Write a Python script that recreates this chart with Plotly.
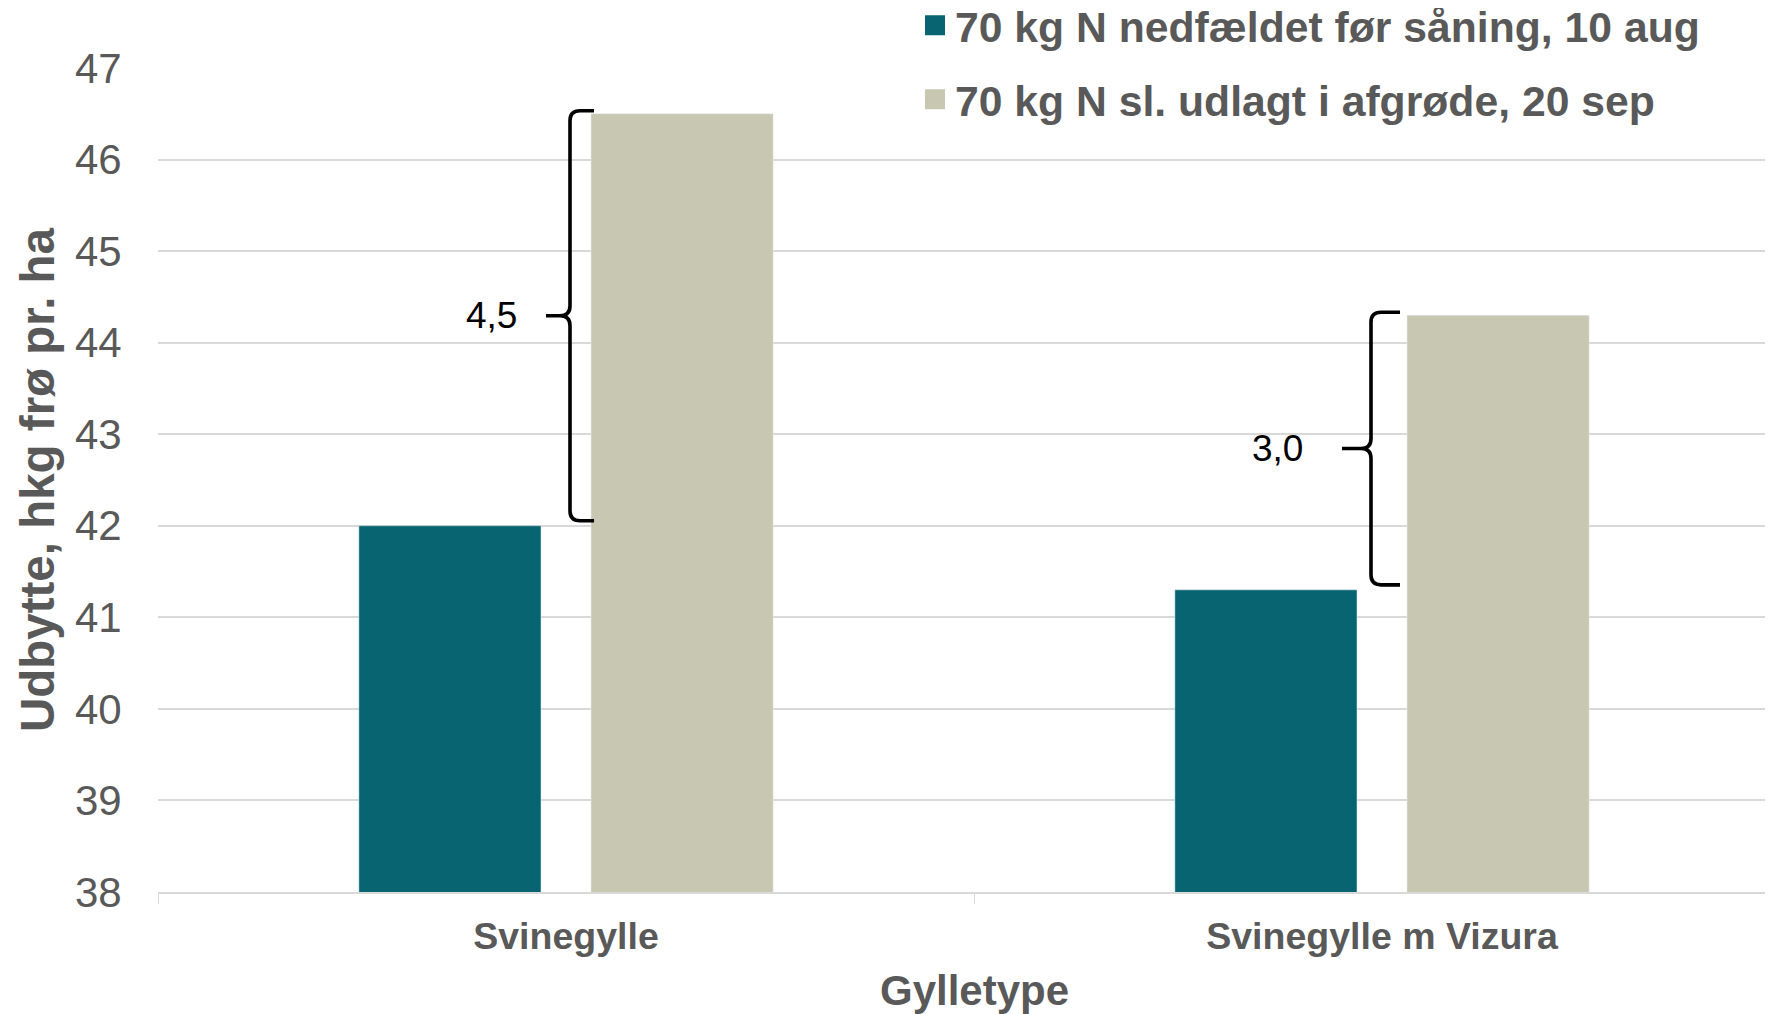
import plotly.graph_objects as go

# ---- data ----
categories = ["Svinegylle", "Svinegylle m Vizura"]
series_names = ["70 kg N nedfældet før såning, 10 aug",
                "70 kg N sl. udlagt i afgrøde, 20 sep"]
vals_aug = [42.0, 41.3]
vals_sep = [46.5, 44.3]
y_ticks = [38, 39, 40, 41, 42, 43, 44, 45, 46, 47]
x_title = "Gylletype"
y_title = "Udbytte, hkg frø pr. ha"

TEAL = "#086470"
BEIGE = "#C8C7B1"
GREY = "#595959"
GRID = "#D9D9D9"
FONT = "Liberation Sans, Arial, sans-serif"

xpos = list(range(len(categories)))

fig = go.Figure()
fig.add_trace(go.Bar(x=xpos, y=vals_aug, marker_color=TEAL, showlegend=False,
                     base=0))
fig.add_trace(go.Bar(x=xpos, y=vals_sep, marker_color=BEIGE, showlegend=False,
                     base=0))
# legend entries
for name, col in zip(series_names, [TEAL, BEIGE]):
    fig.add_trace(go.Scatter(x=[None], y=[None], mode="markers", name=name,
                             legendgroup=name,
                             marker=dict(symbol="square", size=16, color=col,
                                         line=dict(color=col, width=4))))

# ---- braces (difference annotations) ----
px_x = 1 / 816.0   # data units per pixel, x
px_y = 1 / 91.56   # data units per pixel, y
brace_cfg = [  # (vertical offset px, tip offset px, point offset px, label gap px)
    (4, 28, -20, 33),
    (-11, 18, -40, 43),
]
shapes = []
annotations = []
for i, (lo, hi) in enumerate(zip(vals_aug, vals_sep)):
    xv_o, xt_o, xp_o, gap = brace_cfg[i]
    xv = xpos[i] + xv_o * px_x
    xt = xpos[i] + xt_o * px_x
    xp = xpos[i] + xp_o * px_x
    rx = 10 * px_x
    ry = 10 * px_y
    top = hi + 3 * px_y
    bot = lo + 5 * px_y
    mid = (top + bot) / 2
    path = (f"M{xt},{top} L{xv+rx},{top} Q{xv},{top} {xv},{top-ry} "
            f"L{xv},{mid+ry} Q{xv},{mid} {xv-rx},{mid} L{xp},{mid} "
            f"M{xt},{bot} L{xv+rx},{bot} Q{xv},{bot} {xv},{bot+ry} "
            f"L{xv},{mid-ry} Q{xv},{mid} {xv-rx},{mid} L{xp},{mid}")
    shapes.append(dict(type="path", path=path, xref="x", yref="y",
                       line=dict(color="black", width=3.6),
                       fillcolor="rgba(0,0,0,0)"))
    diff = f"{hi - lo:.1f}".replace(".", ",")
    annotations.append(dict(x=xp, y=mid, xref="x", yref="y", text=diff,
                            showarrow=False, xanchor="right", yanchor="middle",
                            xshift=-gap + 6,
                            font=dict(family=FONT, size=37, color="black")))

# x-axis title, centred on the full (cropped) category span
annotations.append(dict(x=0.5, y=0, xref="x", yref="paper", text=x_title,
                        showarrow=False, xanchor="center", yanchor="middle",
                        yshift=-98,
                        font=dict(family=FONT, size=42, color=GREY,
                                  weight="bold")))

# page body has an 8px margin; compensate so the chart fills the window
OFF = 8
W, H = 1773 - OFF, 1014 - OFF
L, T, B = 158 - OFF, 68 - OFF, 122
PH = H - T - B
fig.update_layout(
    width=W, height=H,
    margin=dict(l=L, r=0, t=T, b=B, autoexpand=False),
    paper_bgcolor="white", plot_bgcolor="white",
    barmode="group", bargap=0.431, bargroupgap=0.2155,
    font=dict(family=FONT, color=GREY),
    shapes=shapes, annotations=annotations,
    legend=dict(x=(915 - 158) / (1773 - 158), xanchor="left",
                y=1 + (T + 17) / PH, yanchor="top",
                font=dict(family=FONT, size=42.7, color=GREY, weight="bold"),
                tracegroupgap=15.5, bgcolor="rgba(0,0,0,0)",
                itemwidth=30),
    xaxis=dict(
        range=[-0.5, -0.5 + (1773 - 158) / 816.0],
        tickvals=xpos, ticktext=categories,
        ticks="outside", ticklen=10, tickcolor="rgba(0,0,0,0)",
        tickfont=dict(family=FONT, size=37.5, color=GREY, weight="bold"),
        showgrid=False, zeroline=False,
        showline=True, linecolor=GRID, linewidth=1.5,
        minor=dict(tickvals=[-0.5, 0.5, 1.5], ticks="outside", ticklen=10,
                   tickcolor=GRID, tickwidth=1, showgrid=False),
        fixedrange=True,
    ),
    yaxis=dict(
        range=[38, 47], tickvals=y_ticks,
        ticks="outside", ticklen=27, tickcolor="rgba(0,0,0,0)",
        tickfont=dict(family=FONT, size=42, color=GREY),
        showgrid=True, gridcolor=GRID, gridwidth=1.5,
        zeroline=False, showline=False,
        title=dict(text=y_title, standoff=5,
                   font=dict(family=FONT, size=47.5, color=GREY, weight="bold")),
    ),
)

fig.write_html("out.html")
